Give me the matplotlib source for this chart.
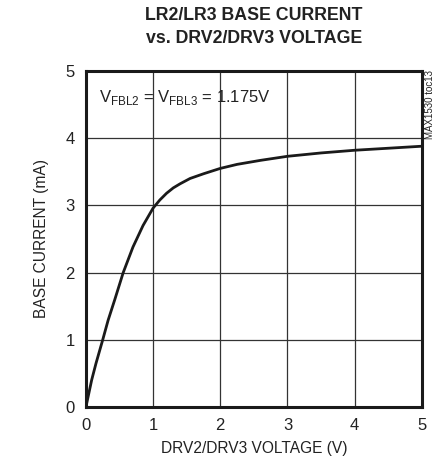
import matplotlib
matplotlib.use('Agg')
import matplotlib.pyplot as plt

plt.rcParams['font.family'] = ['Liberation Sans', 'DejaVu Sans']
plt.rcParams['mathtext.fontset'] = 'custom'
plt.rcParams['mathtext.rm'] = 'Liberation Sans'

# curve
voltage = [0.0, 0.085, 0.15, 0.25, 0.33, 0.43, 0.555, 0.70, 0.85, 1.0, 1.1, 1.2, 1.3,
           1.4, 1.55, 1.75, 2.0, 2.25, 2.6, 3.0, 3.5, 4.0, 4.5, 5.0]
current = [0.0, 0.4, 0.65, 1.0, 1.29, 1.6, 2.0, 2.38, 2.7, 2.96, 3.08, 3.18, 3.26,
           3.32, 3.40, 3.47, 3.55, 3.61, 3.67, 3.73, 3.78, 3.82, 3.85, 3.88]

x_ticks = [0, 1, 2, 3, 4, 5]
y_ticks = [0, 1, 2, 3, 4, 5]

fig = plt.figure(figsize=(4.34, 4.72), dpi=100)
ax = fig.add_axes([0.198, 0.1377, 0.774, 0.712])

ax.plot(voltage, current, color='#1a1a1a', lw=2.0, solid_joinstyle='round', solid_capstyle='round')

ax.set_xlim(0, 5)
ax.set_ylim(0, 5)
ax.set_xticks(x_ticks)
ax.set_yticks(y_ticks)
ax.tick_params(length=0, labelsize=12, pad=8, colors='#222222')
ax.grid(True, color='#333333', lw=0.9)
for s in ax.spines.values():
    s.set_linewidth(2.2)
    s.set_color('#1a1a1a')

ax.set_xlabel('DRV2/DRV3 VOLTAGE (V)', fontsize=11.2, color='#222222', labelpad=6)
ax.set_ylabel('BASE CURRENT (mA)', fontsize=11.2, color='#222222', labelpad=12)

fig.text(0.585, 0.985, 'LR2/LR3 BASE CURRENT\nvs. DRV2/DRV3 VOLTAGE', ha='center', va='top',
         fontsize=12.8, fontweight='bold', color='#222222', linespacing=1.45)

ax.text(0.2, 4.6, r'V$_{\rm FBL2}$ = V$_{\rm FBL3}$ = 1.175V', fontsize=12, color='#222222', va='center')
fig.text(0.991, 0.852, 'MAX1530 toc13', rotation=90, fontsize=7, ha='center', va='top', color='#222222')

fig.savefig('out.png', dpi=100)
